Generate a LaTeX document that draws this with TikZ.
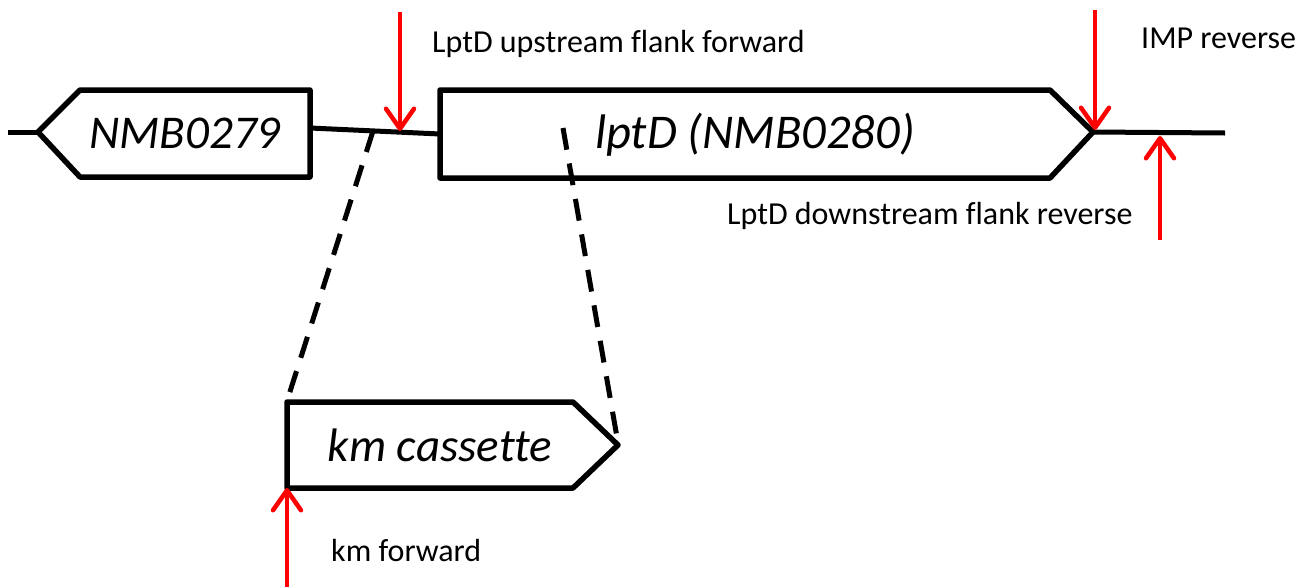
\documentclass[tikz,border=0pt]{standalone}
\usepackage{fontspec}
\setmainfont[Ligatures=NoCommon]{Carlito}
\usetikzlibrary{arrows.meta}
\begin{document}
\begin{tikzpicture}[x=1pt,y=-1pt,
  gene/.style={draw=black,line width=5.5pt,line join=round},
  dna/.style={draw=black,line width=5pt},
  dashline/.style={draw=black,line width=5pt,dash pattern=on 22pt off 14pt},
  primer/.style={draw=red,line width=4.5pt,-{Straight Barb[length=20pt,width=28pt,line width=4.5pt,round]}},
  lbl/.style={font=\fontsize{32}{38}\selectfont,inner sep=0pt},
  genelbl/.style={font=\fontsize{47}{56}\selectfont\itshape,inner sep=0pt}]
\useasboundingbox (0,0) rectangle (1311,587);
% named points
\coordinate (lstart) at (8,132);
\coordinate (atip) at (38,132);
\coordinate (aright) at (310,128);
\coordinate (bleft) at (440,134);
\coordinate (btip) at (1093,132);
\coordinate (lend) at (1225,133);
\coordinate (upA) at (400,12);
\coordinate (upB) at (400,131);
\coordinate (impA) at (1095,10);
\coordinate (impB) at (1095,130);
\coordinate (dnA) at (1160,240);
\coordinate (dnB) at (1160,136);
\coordinate (kmA) at (287,587);
\coordinate (kmB) at (287,488);
\coordinate (d1a) at (373,131);
\coordinate (d1b) at (287,401);
\coordinate (d2a) at (563,128);
\coordinate (d2b) at (618,443);
% DNA line
\draw[dna] (lstart) -- (atip);
\draw[dna] (aright) -- (bleft);
\draw[dna] (btip) -- (lend);
% genes
\draw[gene] (atip) -- (80,90) -- (310,90) -- (310,177) -- (80,177) -- cycle;
\draw[gene] (440,90) -- (1050,90) -- (btip) -- (1050,178) -- (440,178) -- cycle;
\draw[gene] (287,402) -- (573,402) -- (618,445) -- (573,488) -- (287,488) -- cycle;
% dashed insertion lines
\draw[dashline] (d1a) -- (d1b);
\draw[dashline] (d2a) -- (d2b);
% gene labels
\node[genelbl] (g1) at (185,133) {NMB0279};
\node[genelbl,font=\fontsize{48.5}{56}\selectfont\itshape] (g2) at (755,135) {lptD (NMB0280)};
\node[genelbl] (g3) at (440,445) {km cassette};
% primers
\draw[primer] (upA) -- (upB);
\draw[primer] (impA) -- (impB);
\draw[primer] (dnA) -- (dnB);
\draw[primer] (kmA) -- (kmB);
% primer labels
\node[lbl,anchor=west] (t1) at (432,44) {LptD upstream flank forward};
\node[lbl,anchor=west] (t2) at (1141,38) {IMP reverse};
\node[lbl,anchor=west] (t3) at (727,216) {LptD downstream flank reverse};
\node[lbl,anchor=west] (t4) at (331,550) {km forward};
\end{tikzpicture}
\end{document}
